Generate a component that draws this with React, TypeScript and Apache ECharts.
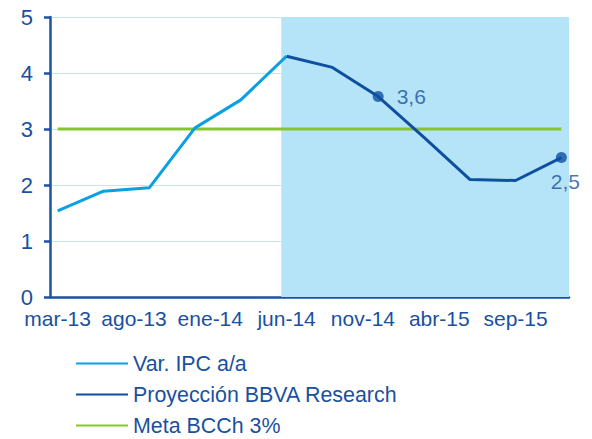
import React, { useEffect, useRef } from "react";
import * as echarts from "echarts";

const months = [
  "mar-13", "abr-13", "may-13", "jun-13", "jul-13", "ago-13", "sep-13", "oct-13", "nov-13", "dic-13",
  "ene-14", "feb-14", "mar-14", "abr-14", "may-14", "jun-14", "jul-14", "ago-14", "sep-14", "oct-14",
  "nov-14", "dic-14", "ene-15", "feb-15", "mar-15", "abr-15", "may-15", "jun-15", "jul-15", "ago-15",
  "sep-15", "oct-15", "nov-15", "dic-15",
];

const ipcMonths = ["mar-13", "jun-13", "sep-13", "dic-13", "mar-14", "jun-14"];
const ipcValues = [1.54, 1.89, 1.95, 3.02, 3.52, 4.3];

const projMonths = ["jun-14", "sep-14", "dic-14", "mar-15", "jun-15", "sep-15", "dic-15"];
const projValues = [4.3, 4.1, 3.58, 2.85, 2.1, 2.08, 2.49];

const metaMonths = ["mar-13", "dic-15"];
const metaValues = [3, 3];

const labeledMonths = ["dic-14", "dic-15"];
const labeledValues = [3.6, 2.5];

// projection period shading, in months counted from the start of the axis
const shadeStart = 15.15;
const shadeEnd = 34;

const yTicks = [0, 1, 2, 3, 4, 5];

const TEXT = "#1a50a0";
const AXIS = "#1c52a4";
const LIGHT = "#0aa0e2";
const DARK = "#0f4fa0";
const GREEN = "#86c52e";
const FONT = "Liberation Sans";

export default function App() {
  const ref = useRef<HTMLDivElement>(null);
  useEffect(() => {
    if (!ref.current) return;
    const chart = echarts.init(ref.current, undefined, { renderer: "svg" });
    const fmt = (v: number) => String(v).replace(".", ",");
    chart.setOption({
      animation: false,
      textStyle: { fontFamily: FONT },
      grid: { left: 50, right: 23, top: 17, bottom: 142, containLabel: false },
      legend: {
        data: ["Var. IPC a/a", "Proyección BBVA Research", "Meta BCCh 3%"],
        orient: "vertical",
        left: 75,
        top: 353,
        padding: 0,
        height: 90,
        itemWidth: 52,
        itemHeight: 20,
        itemGap: 10,
        itemStyle: { opacity: 0 },
        textStyle: { color: TEXT, fontSize: 21.4, fontFamily: FONT },
      },
      xAxis: [
        {
          type: "category",
          data: months,
          boundaryGap: true,
          axisLine: { lineStyle: { color: AXIS, width: 2.5 } },
          axisTick: { interval: 4, length: 5, lineStyle: { color: AXIS, width: 2.5 } },
          axisLabel: { interval: 4, color: TEXT, fontSize: 21, margin: 11, fontFamily: FONT },
          splitLine: { show: false },
        },
        {
          type: "value",
          min: 0,
          max: months.length,
          show: false,
          splitLine: { show: false },
        },
      ],
      yAxis: {
        type: "value",
        min: yTicks[0],
        max: yTicks[yTicks.length - 1],
        interval: 1,
        axisLine: { show: true, lineStyle: { color: AXIS, width: 2.5 } },
        axisTick: { show: true, length: 6, lineStyle: { color: AXIS, width: 2.5 } },
        axisLabel: { color: TEXT, fontSize: 22, margin: 17, fontFamily: FONT },
        splitLine: { show: true, lineStyle: { color: "#c8e7f5", width: 1 } },
      },
      series: [
        {
          name: "shade",
          type: "line",
          xAxisIndex: 1,
          data: [[shadeStart, 0]],
          symbol: "none",
          lineStyle: { opacity: 0 },
          silent: true,
          z: 0,
          markArea: {
            silent: true,
            itemStyle: { color: "#b5e4f8", opacity: 1 },
            data: [[{ xAxis: shadeStart }, { xAxis: shadeEnd }]],
          },
        },
        {
          name: "Meta BCCh 3%",
          type: "line",
          data: metaMonths.map((m, i) => [m, metaValues[i]]),
          symbol: "none",
          lineStyle: { color: GREEN, width: 3 },
          itemStyle: { color: GREEN },
          z: 3,
        },
        {
          name: "Var. IPC a/a",
          type: "line",
          data: ipcMonths.map((m, i) => [m, ipcValues[i]]),
          symbol: "none",
          lineStyle: { color: LIGHT, width: 3 },
          itemStyle: { color: LIGHT },
          z: 4,
        },
        {
          name: "Proyección BBVA Research",
          type: "line",
          data: projMonths.map((m, i) => [m, projValues[i]]),
          symbol: "none",
          lineStyle: { color: DARK, width: 3 },
          itemStyle: { color: DARK },
          z: 4,
        },
        {
          name: "dots",
          type: "scatter",
          data: labeledMonths.map((m, i) => ({
            value: [m, projValues[projMonths.indexOf(m)]],
            label: {
              show: true,
              formatter: fmt(labeledValues[i]),
              position: i === 0 ? "right" : "bottom",
              distance: i === 0 ? 13 : 8,
              offset: i === 0 ? [0, 0] : [4, 0],
              color: TEXT,
              fontSize: 21,
              fontFamily: FONT,
            },
          })),
          symbol: "circle",
          symbolSize: 11,
          itemStyle: { color: DARK },
          z: 5,
        },
      ],
    });
    return () => chart.dispose();
  }, []);
  return (
    <div
      ref={ref}
      style={{ position: "fixed", left: 0, top: 0, width: 592, height: 439, background: "#fff" }}
    />
  );
}
